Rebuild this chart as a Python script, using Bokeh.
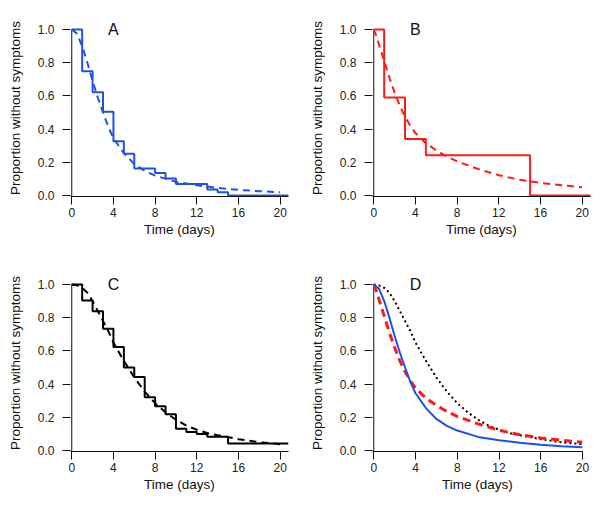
from bokeh.plotting import figure
from bokeh.layouts import column, row
from bokeh.models import Range1d, FixedTicker, PrintfTickFormatter, Label
from bokeh.embed import file_html
from bokeh.resources import INLINE

# ---------------- data ----------------
# Kaplan-Meier steps (time in days, proportion without symptoms)
a_times = [0, 1, 2, 3, 4, 5, 6, 8, 9, 10, 13, 14, 15, 20.8]
a_surv = [1.0, 0.749, 0.622, 0.505, 0.326, 0.252, 0.163, 0.135, 0.103, 0.07, 0.036, 0.02, 0.0, 0.0]

b_times = [0, 1, 3, 5, 15, 20.8]
b_surv = [1.0, 0.59, 0.34, 0.243, 0.0, 0.0]

c_times = [0, 1, 2, 3, 4, 5, 6, 7, 8, 9, 10, 11, 12, 13, 15, 20.8]
c_surv = [1.0, 0.903, 0.839, 0.734, 0.624, 0.50, 0.443, 0.32, 0.266, 0.219, 0.131, 0.111, 0.10, 0.083, 0.042, 0.042]

# fitted curves
fit_a_t = [0, 0.5, 1, 1.5, 2, 2.5, 3, 3.5, 4, 5, 6, 7, 8, 10, 12, 14, 16, 18, 20]
fit_a_s = [1.0, 0.975, 0.90, 0.80, 0.69, 0.59, 0.50, 0.415, 0.345, 0.255, 0.19, 0.148, 0.12, 0.082, 0.062, 0.046, 0.034, 0.026, 0.019]

fit_b_t = [0, 0.25, 0.5, 1, 1.5, 2, 2.5, 3, 3.5, 4, 5, 6, 7, 8, 10, 12, 14, 16, 18, 20]
fit_b_s = [1.0, 0.96, 0.91, 0.81, 0.71, 0.62, 0.54, 0.475, 0.42, 0.376, 0.315, 0.272, 0.235, 0.205, 0.16, 0.122, 0.095, 0.076, 0.062, 0.05]

fit_c_t = [0, 0.5, 1, 1.5, 2, 2.5, 3, 3.5, 4, 5, 6, 7, 8, 9, 10, 11, 12, 13, 14, 16, 18, 20]
fit_c_s = [1.0, 0.995, 0.98, 0.95, 0.90, 0.84, 0.78, 0.72, 0.65, 0.54, 0.44, 0.355, 0.285, 0.23, 0.185, 0.15, 0.125, 0.105, 0.092, 0.068, 0.05, 0.038]

x_ticks = [0, 4, 8, 12, 16, 20]
y_ticks = [0.0, 0.2, 0.4, 0.6, 0.8, 1.0]
panel_letters = ["A", "B", "C", "D"]

BLUE = "#2050E8"
RED = "#FF1A1A"
BLACK = "#000000"
FONT = "Liberation Sans"
YTOP = 1.06


def make_panel(letter, w, h, left, right, top, bottom, xmax):
    p = figure(width=w, height=h, output_backend="svg", toolbar_location=None,
               x_range=Range1d(-0.12, xmax), y_range=Range1d(-0.006, YTOP),
               min_border_left=left, min_border_right=right,
               min_border_top=top, min_border_bottom=bottom)
    p.outline_line_color = None
    p.grid.visible = False
    p.background_fill_color = "white"
    p.border_fill_color = "white"
    for ax in (p.xaxis[0], p.yaxis[0]):
        ax.major_tick_in = 0
        ax.major_tick_out = 8
        ax.minor_tick_line_color = None
        ax.axis_line_color = "#111111"
        ax.major_tick_line_color = "#111111"
        ax.major_label_text_font = FONT
        ax.major_label_text_font_size = "12px"
        ax.major_label_text_color = "#222222"
        ax.axis_label_text_font = FONT
        ax.axis_label_text_font_size = "13.5px"
        ax.axis_label_text_font_style = "normal"
        ax.axis_label_text_color = "#111111"
    p.yaxis[0].axis_line_color = None
    p.xaxis[0].ticker = FixedTicker(ticks=x_ticks)
    p.yaxis[0].ticker = FixedTicker(ticks=y_ticks)
    p.yaxis[0].formatter = PrintfTickFormatter(format="%.1f")
    p.xaxis[0].axis_label = "Time (days)"
    p.yaxis[0].axis_label = "Proportion without symptoms"
    p.xaxis[0].major_label_standoff = 3
    p.yaxis[0].major_label_standoff = 8
    p.xaxis[0].axis_label_standoff = 2
    p.yaxis[0].axis_label_standoff = 12
    # y axis line only from 0 to 1
    p.segment(x0=[0], y0=[-0.006], x1=[0], y1=[1.0], line_color="#111111", line_width=1)
    p.add_layout(Label(x=4, y=1.0, text=letter, text_font=FONT, text_font_size="16px",
                       text_align="center", text_baseline="middle", text_color="#111111"))
    return p


pA = make_panel(panel_letters[0], 304, 254, 70, 16, 19, 58, 20.8)
pA.step(a_times, a_surv, mode="after", line_color=BLUE, line_width=2)
pA.line(fit_a_t, fit_a_s, line_color=BLUE, line_width=2, line_dash="7 5")

pB = make_panel(panel_letters[1], 296, 254, 68, 10, 19, 58, 20.8)
pB.step(b_times, b_surv, mode="after", line_color=RED, line_width=2)
pB.line(fit_b_t, fit_b_s, line_color=RED, line_width=2, line_dash="7 5")

pC = make_panel(panel_letters[2], 304, 259, 70, 16, 20, 62, 20.8)
pC.step(c_times, c_surv, mode="after", line_color=BLACK, line_width=2)
pC.line(fit_c_t, fit_c_s, line_color=BLACK, line_width=2, line_dash="7 5")

pD = make_panel(panel_letters[3], 296, 259, 68, 18, 20, 62, 20)
pD.line(fit_c_t, fit_c_s, line_color=BLACK, line_width=2, line_dash="2 3")
pD.line(fit_b_t, fit_b_s, line_color=RED, line_width=3, line_dash="8 5")
pD.line(fit_a_t, fit_a_s, line_color=BLUE, line_width=2)

layout = column(row(pA, pB), row(pC, pD))

with open("out.html", "w") as f:
    f.write(file_html(layout, INLINE))
